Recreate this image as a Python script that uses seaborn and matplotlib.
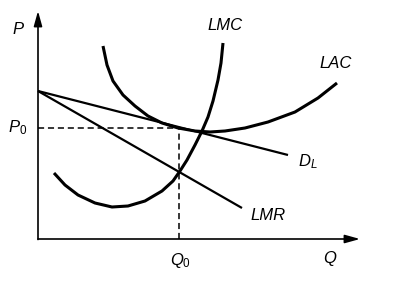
import matplotlib
matplotlib.use("Agg")
import matplotlib.pyplot as plt
import seaborn as sns

sns.set_style("white")
plt.rcParams['font.family'] = ['Liberation Sans', 'DejaVu Sans']
plt.rcParams['mathtext.fontset'] = 'custom'
plt.rcParams['mathtext.it'] = 'Liberation Sans:italic'
plt.rcParams['mathtext.rm'] = 'Liberation Sans'
plt.rcParams['text.color'] = 'black'

# Curves (Q, P)
lmc_q = [1.6, 2.7, 4.0, 5.7, 7.4, 9.0, 10.7, 12.4, 13.5, 14.2, 14.9, 15.7, 16.4, 17.0, 17.5, 18.0, 18.3, 18.5]
lmc_p = [6.6, 5.4, 4.4, 3.6, 3.2, 3.3, 3.8, 4.8, 5.8, 6.8, 7.9, 9.4, 10.8, 12.2, 13.8, 15.9, 17.6, 19.6]

lac_q = [6.5, 6.9, 7.5, 8.5, 9.7, 11.0, 12.4, 14.0, 15.7, 17.2, 18.7, 20.7, 23.0, 25.7, 28.0, 29.9]
lac_p = [19.3, 17.4, 15.8, 14.4, 13.3, 12.3, 11.6, 11.1, 10.8, 10.7, 10.8, 11.1, 11.7, 12.7, 14.1, 15.6]

dl_q = [0.0, 25.0]
dl_p = [14.8, 8.4]

lmr_q = [0.0, 20.4]
lmr_p = [14.8, 3.1]

q0 = 14.1
p0 = 11.1

fig = plt.figure(figsize=(4.04, 2.88), dpi=100)
ax = fig.add_axes([0, 0, 1, 1])
ax.set_xlim(-3.8, 36.6)
ax.set_ylim(-4.9, 23.9)
ax.axis('off')

curve_kw = dict(color='black', sort=False, estimator=None,
                solid_joinstyle='round', solid_capstyle='butt')
sns.lineplot(x=lmc_q, y=lmc_p, ax=ax, lw=2.2, **curve_kw)
sns.lineplot(x=lac_q, y=lac_p, ax=ax, lw=2.2, **curve_kw)
sns.lineplot(x=dl_q, y=dl_p, ax=ax, lw=1.6, **curve_kw)
sns.lineplot(x=lmr_q, y=lmr_p, ax=ax, lw=1.6, **curve_kw)

# dashed guides
ax.plot([0, q0], [p0, p0], color='black', lw=1.1, ls=(0, (4, 2.5)))
ax.plot([q0, q0], [0, p0], color='black', lw=1.1, ls=(0, (4, 2.5)))

# axes with arrows
ax.annotate('', xy=(32.2, 0), xytext=(0, 0),
            arrowprops=dict(arrowstyle='-|>,head_length=0.9,head_width=0.25', color='black', lw=1.2, shrinkA=0, shrinkB=0))
ax.annotate('', xy=(0, 22.8), xytext=(0, -0.05),
            arrowprops=dict(arrowstyle='-|>,head_length=0.9,head_width=0.25', color='black', lw=1.2, shrinkA=0, shrinkB=0))

fs = 12
ax.text(-2.0, 21.0, '$P$', fontsize=fs, ha='center', va='center')
ax.text(-2.0, p0, '$P_0$', fontsize=fs, ha='center', va='center')
ax.text(q0 + 0.2, -2.2, '$Q_0$', fontsize=fs, ha='center', va='center')
ax.text(29.2, -2.0, '$Q$', fontsize=fs, ha='center', va='center')
ax.text(18.7, 21.3, 'LMC', fontsize=fs, style='italic', ha='center', va='center')
ax.text(29.8, 17.5, 'LAC', fontsize=fs, style='italic', ha='center', va='center')
ax.text(27.0, 7.7, '$D_L$', fontsize=fs, ha='center', va='center')
ax.text(23.0, 2.3, 'LMR', fontsize=fs, style='italic', ha='center', va='center')

fig.savefig('out.png', dpi=100, facecolor='white')
